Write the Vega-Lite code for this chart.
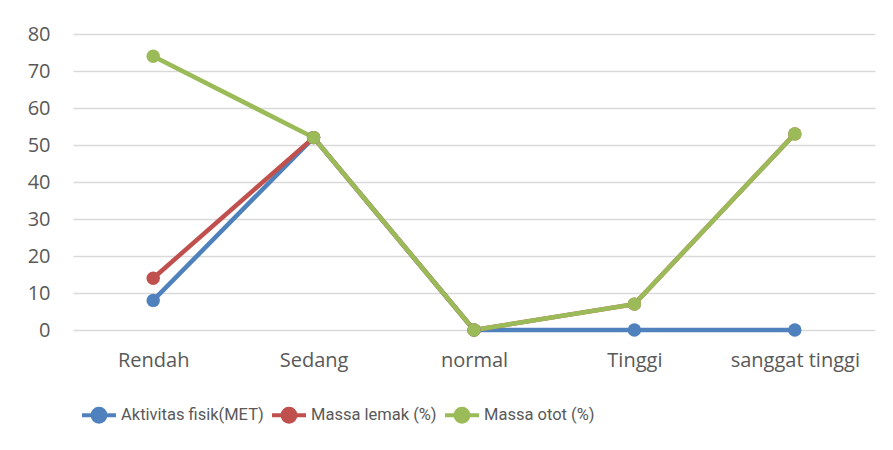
{
  "$schema": "https://vega.github.io/schema/vega-lite/v6.json",
  "width": 802,
  "height": 296,
  "autosize": {"type": "none"},
  "padding": {"left": 73, "top": 34, "right": 18, "bottom": 120},
  "background": "white",
  "config": {
    "view": {"stroke": null},
    "font": "Open Sans",
    "axis": {"labelFont": "Open Sans", "labelFontSize": 20, "labelColor": "#595959"},
    "legend": {"labelFont": "Roboto", "labelFontSize": 16.5, "labelColor": "#595959"}
  },
  "data": {
    "values": [
      {"kategori": "Rendah", "seri": "Aktivitas fisik(MET)", "nilai": 8},
      {"kategori": "Sedang", "seri": "Aktivitas fisik(MET)", "nilai": 52},
      {"kategori": "normal", "seri": "Aktivitas fisik(MET)", "nilai": 0},
      {"kategori": "Tinggi", "seri": "Aktivitas fisik(MET)", "nilai": 0},
      {"kategori": "sanggat tinggi", "seri": "Aktivitas fisik(MET)", "nilai": 0},
      {"kategori": "Rendah", "seri": "Massa lemak (%)", "nilai": 14},
      {"kategori": "Sedang", "seri": "Massa lemak (%)", "nilai": 52},
      {"kategori": "normal", "seri": "Massa lemak (%)", "nilai": 0},
      {"kategori": "Tinggi", "seri": "Massa lemak (%)", "nilai": 7},
      {"kategori": "sanggat tinggi", "seri": "Massa lemak (%)", "nilai": 53},
      {"kategori": "Rendah", "seri": "Massa otot (%)", "nilai": 74},
      {"kategori": "Sedang", "seri": "Massa otot (%)", "nilai": 52},
      {"kategori": "normal", "seri": "Massa otot (%)", "nilai": 0},
      {"kategori": "Tinggi", "seri": "Massa otot (%)", "nilai": 7},
      {"kategori": "sanggat tinggi", "seri": "Massa otot (%)", "nilai": 53}
    ]
  },
  "encoding": {
    "x": {
      "field": "kategori",
      "type": "nominal",
      "sort": ["Rendah", "Sedang", "normal", "Tinggi", "sanggat tinggi"],
      "scale": {"type": "point", "padding": 0.5},
      "axis": {"title": null, "labelAngle": 0, "domain": false, "ticks": false, "labelPadding": 20, "grid": false}
    },
    "y": {
      "field": "nilai",
      "type": "quantitative",
      "scale": {"domain": [0, 80], "nice": false},
      "axis": {
        "title": null,
        "values": [0, 10, 20, 30, 40, 50, 60, 70, 80],
        "domain": false,
        "ticks": false,
        "labelPadding": 23,
        "grid": true,
        "gridColor": "#d9d9d9",
        "gridWidth": 1.5
      }
    },
    "color": {
      "field": "seri",
      "type": "nominal",
      "sort": ["Aktivitas fisik(MET)", "Massa lemak (%)", "Massa otot (%)"],
      "scale": {
        "domain": ["Aktivitas fisik(MET)", "Massa lemak (%)", "Massa otot (%)"],
        "range": ["#4F81BD", "#C0504D", "#9BBB59"]
      },
      "legend": {
        "title": null,
        "orient": "none",
        "direction": "horizontal",
        "legendX": 7,
        "legendY": 362,
        "symbolType": "M-1,0L1,0M-0.38,0A0.38,0.38 0 1,1 0.38,0A0.38,0.38 0 1,1 -0.38,0",
        "symbolSize": 1156,
        "symbolStrokeWidth": 4,
        "symbolFillColor": null,
        "labelOffset": 3,
        "columnPadding": 0
      }
    }
  },
  "layer": [
    {"mark": {"type": "line", "strokeWidth": 4.5}},
    {"mark": {"type": "point", "filled": true, "opacity": 1, "size": 180}}
  ]
}
